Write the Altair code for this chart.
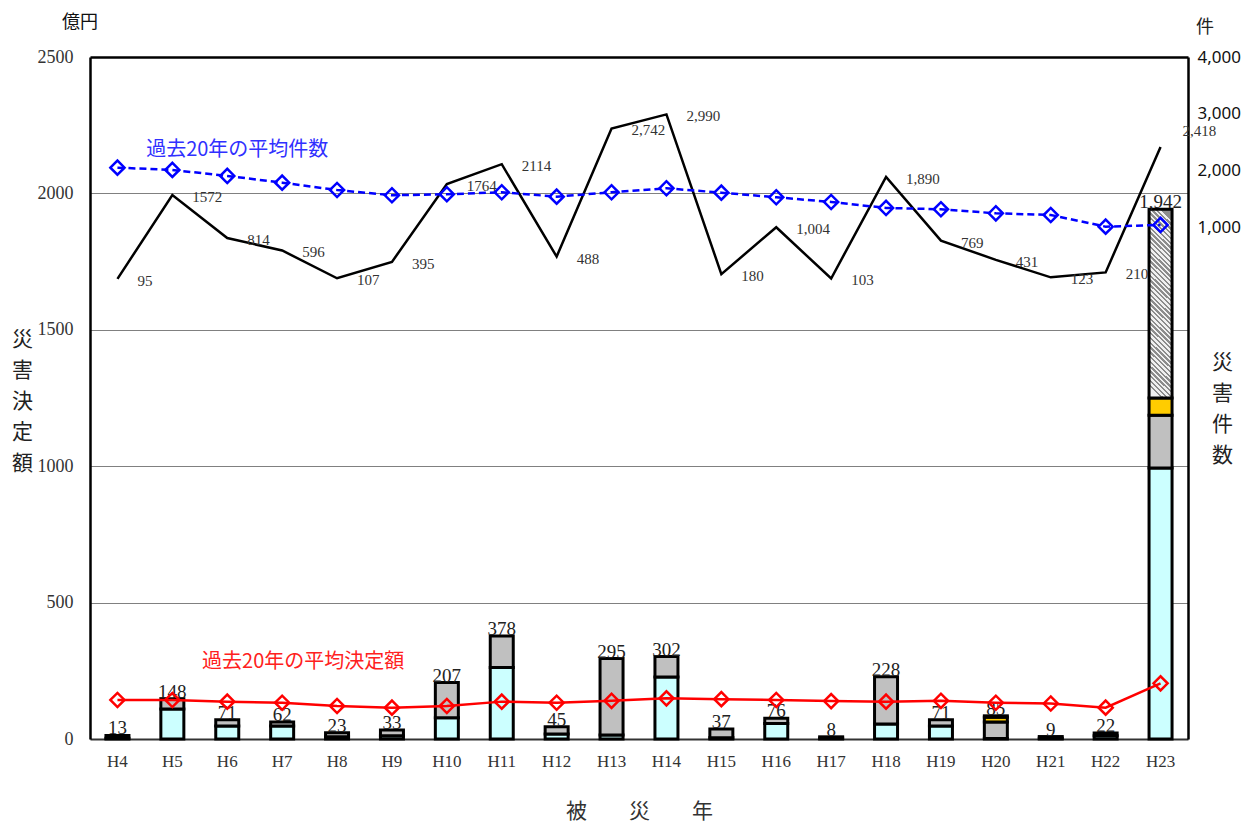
import altair as alt
import pandas as pd

years = ["H4", "H5", "H6", "H7", "H8", "H9", "H10", "H11", "H12", "H13",
         "H14", "H15", "H16", "H17", "H18", "H19", "H20", "H21", "H22", "H23"]

# stacked amount segments (億円)
seg_cyan = [3, 110, 48, 48, 8, 12, 78, 262, 18, 15, 227, 5, 57, 3, 55, 48, 2, 3, 12, 993]
seg_gray = [10, 38, 23, 14, 15, 21, 129, 116, 27, 280, 75, 32, 19, 5, 173, 23, 60, 6, 10, 194]
seg_yellow = [0, 0, 0, 0, 0, 0, 0, 0, 0, 0, 0, 0, 0, 0, 0, 0, 18, 0, 0, 63]
seg_hatch = [0, 0, 0, 0, 0, 0, 0, 0, 0, 0, 0, 0, 0, 0, 0, 0, 5, 0, 0, 692]

totals = [13, 148, 71, 62, 23, 33, 207, 378, 45, 295, 302, 37, 76, 8, 228, 71, 85, 9, 22, 1942]
total_labels = ["13", "148", "71", "62", "23", "33", "207", "378", "45", "295", "302",
                "37", "76", "8", "228", "71", "85", "9", "22", "1,942"]

# disaster counts (件)
counts = [95, 1572, 814, 596, 107, 395, 1764, 2114, 488, 2742, 2990, 180, 1004, 103,
          1890, 769, 431, 123, 210, 2418]
count_labels = ["95", "1572", "814", "596", "107", "395", "1764", "2114", "488", "2,742",
                "2,990", "180", "1,004", "103", "1,890", "769", "431", "123", "210", "2,418"]

avg_counts = [2053, 2013, 1907, 1789, 1660, 1567, 1585, 1620, 1543, 1620, 1690, 1613,
              1532, 1449, 1344, 1321, 1250, 1220, 1015, 1045]
avg_amounts = [143, 143, 137, 133, 121, 115, 121, 137, 133, 140, 149, 146, 143, 139,
               137, 140, 133, 130, 115, 204]

cats = ["cyan", "gray", "yellow", "hatch"]
cat_colors = ["#ccffff", "#c0c0c0", "#ffcc00", "#a0a0a0"]

rows = []
for i, yr in enumerate(years):
    for order, (cat, arr) in enumerate(zip(cats, [seg_cyan, seg_gray, seg_yellow, seg_hatch])):
        if arr[i] > 0:
            rows.append({"year": yr, "cat": cat, "order": order, "value": arr[i]})
seg_df = pd.DataFrame(rows)

tot_df = pd.DataFrame({"year": years, "total": totals, "label": total_labels})
cnt_df = pd.DataFrame({"year": years, "count": counts, "label": count_labels,
                       "avg_count": avg_counts, "avg_amount": avg_amounts})

SERIF = "Liberation Serif"
CJK = "Noto Sans CJK JP"

x_enc = alt.X("year:N", sort=years,
              scale=alt.Scale(domain=years, paddingInner=0, paddingOuter=0),
              axis=alt.Axis(title="被　　災　　年", labelAngle=0, labelFont=SERIF,
                            labelFontSize=17, labelColor="#333333", labelPadding=14,
                            ticks=False, domain=True, domainColor="#333333", domainWidth=2,
                            grid=False,
                            titleFont=CJK, titleFontSize=21, titleFontWeight="normal",
                            titleColor="#333333", titlePadding=31))

left_scale = alt.Scale(domain=[0, 2500], nice=False, zero=True)
left_axis = alt.Axis(title=["災", "害", "決", "定", "額"], titleAngle=0, titleAlign="center",
                     titleBaseline="top", titleX=-68, titleY=271, titleLineHeight=31,
                     titleFont=CJK, titleFontSize=21, titleFontWeight="normal",
                     titleColor="#222222",
                     values=[0, 500, 1000, 1500, 2000, 2500], format="d",
                     labelFont=SERIF, labelFontSize=18, labelColor="#333333",
                     labelPadding=17, ticks=False,
                     domain=True, domainColor="black", domainWidth=2.5,
                     grid=True,
                     gridColor=alt.condition("datum.value == 2500",
                                             alt.value("black"), alt.value("#808080")),
                     gridWidth=alt.condition("datum.value == 2500",
                                             alt.value(2.5), alt.value(1)),
                     gridOpacity=alt.condition("datum.value == 0",
                                               alt.value(0), alt.value(1)))


def yleft(field):
    return alt.Y(field, scale=left_scale, axis=left_axis)


right_scale = alt.Scale(domain=[-8000, 4000], nice=False, zero=False)
right_axis = alt.Axis(orient="right", title=["災", "害", "件", "数"], titleAngle=0,
                      titleAlign="center", titleBaseline="top", titleX=34, titleY=294,
                      titleLineHeight=31, titleFont=CJK, titleFontSize=21,
                      titleFontWeight="normal", titleColor="#222222",
                      values=[1000, 2000, 3000, 4000], format=",.0f",
                      labelFont="Noto Sans", labelFontSize=17, labelColor="#111111",
                      labelPadding=9, ticks=False,
                      domain=True, domainColor="black", domainWidth=2.5, grid=False)


def yright(field):
    return alt.Y(field, scale=right_scale, axis=right_axis)


# --- bars ---
base = alt.Chart(seg_df).transform_stack(
    stack="value", groupby=["year"], as_=["v0", "v1"],
    sort=[alt.SortField("order", order="ascending")])

bars = base.transform_filter(alt.datum.cat != "hatch").mark_bar(
    width=23, stroke="black", strokeWidth=3).encode(
    x=x_enc, y=yleft("v0:Q"), y2="v1:Q",
    fill=alt.Fill("cat:N", scale=alt.Scale(domain=cats, range=cat_colors), legend=None))

N = 40
stops = []
for k in range(N):
    a = k / N
    b = (k + 0.5) / N
    c = (k + 1) / N
    stops += [alt.GradientStop(offset=a, color="#8c8c8c"),
              alt.GradientStop(offset=b, color="#8c8c8c"),
              alt.GradientStop(offset=b, color="#f0f0f0"),
              alt.GradientStop(offset=c, color="#f0f0f0")]
hatch_fill = alt.LinearGradient(gradient="linear", stops=stops, x1=0.56, y1=0, x2=0.44, y2=1)

hatch = base.transform_filter(alt.datum.cat == "hatch").mark_bar(
    width=23, stroke="black", strokeWidth=3, fill=hatch_fill).encode(
    x=x_enc, y=yleft("v0:Q"), y2="v1:Q")

tot_text = alt.Chart(tot_df).mark_text(
    font=SERIF, fontSize=19, color="#222222", baseline="alphabetic", dy=-1).encode(
    x=x_enc, y=yleft("total:Q"), text="label:N")

red_line = alt.Chart(cnt_df).mark_line(color="#ff0000", strokeWidth=2.5).encode(
    x=x_enc, y=yleft("avg_amount:Q"))
red_pts = alt.Chart(cnt_df).mark_point(
    shape="diamond", filled=False, color="#ff0000", size=200, strokeWidth=2.5,
    opacity=1).encode(
    x=x_enc, y=yleft("avg_amount:Q"))
red_note = alt.Chart(pd.DataFrame({"year": ["H7"], "v": [282], "t": ["過去20年の平均決定額"]})).mark_text(
    font=CJK, fontSize=20, color="#ff2020", dx=21).encode(
    x=x_enc, y=yleft("v:Q"), text="t:N")
unit_oku = alt.Chart(pd.DataFrame({"t": ["億円"]})).mark_text(
    font=CJK, fontSize=18, color="#111111").encode(
    text="t:N", x=alt.value(-10), y=alt.value(-34))

left_layer = alt.layer(bars, hatch, tot_text, red_line, red_pts, red_note, unit_oku)

# --- right axis series ---
blk_line = alt.Chart(cnt_df).mark_line(color="black", strokeWidth=2.5).encode(
    x=x_enc, y=yright("count:Q"))
blk_text = alt.Chart(cnt_df).transform_filter(alt.datum.year != "H23").mark_text(
    font=SERIF, fontSize=15, color="#333333", align="left", baseline="middle",
    dx=20, dy=2).encode(x=x_enc, y=yright("count:Q"), text="label:N")
blk_text_last = alt.Chart(cnt_df).transform_filter(alt.datum.year == "H23").mark_text(
    font=SERIF, fontSize=15, color="#333333", align="left", baseline="middle",
    dx=22, dy=-16).encode(x=x_enc, y=yright("count:Q"), text="label:N")
blue_line = alt.Chart(cnt_df).mark_line(
    color="#0000ff", strokeWidth=2.5, strokeDash=[7, 4]).encode(
    x=x_enc, y=yright("avg_count:Q"))
blue_pts = alt.Chart(cnt_df).mark_point(
    shape="diamond", filled=False, color="#0000ff", size=200, strokeWidth=2.5,
    opacity=1).encode(
    x=x_enc, y=yright("avg_count:Q"))
blue_note = alt.Chart(pd.DataFrame({"year": ["H6"], "v": [2364], "t": ["過去20年の平均件数"]})).mark_text(
    font=CJK, fontSize=20, color="#3030ff", dx=10).encode(
    x=x_enc, y=yright("v:Q"), text="t:N")
unit_ken = alt.Chart(pd.DataFrame({"t": ["件"]})).mark_text(
    font=CJK, fontSize=18, color="#222222").encode(
    text="t:N", x=alt.value(1115), y=alt.value(-29))

right_layer = alt.layer(blk_line, blk_text, blk_text_last, blue_line, blue_pts, blue_note, unit_ken)

chart = alt.layer(left_layer, right_layer).resolve_scale(y="independent").properties(
    width=1098, height=682,
    autosize=alt.AutoSizeParams(type="none"),
    padding={"left": 82, "top": 49, "right": 56, "bottom": 84},
).configure_view(stroke="black", strokeWidth=2.5).configure(background="white")

chart.save("out.html", embed_options={"renderer": "svg", "actions": False})
